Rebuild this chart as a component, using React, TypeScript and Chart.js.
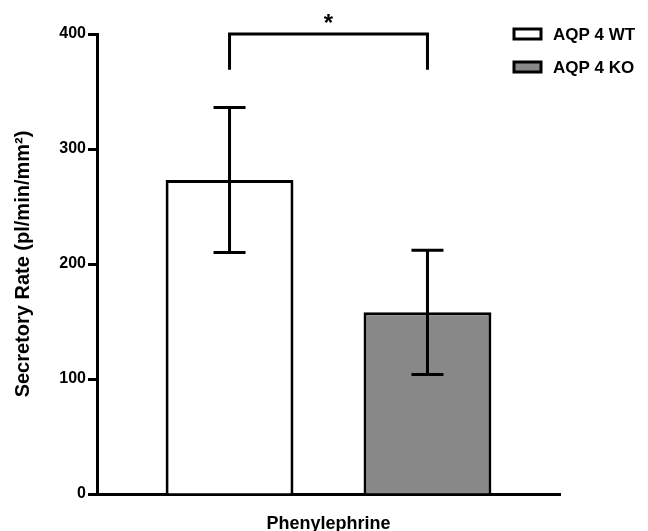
import React, { useEffect, useRef } from "react";
import { Chart, registerables } from "chart.js";

Chart.register(...registerables);

const categories = ["Phenylephrine"];
const seriesLabels = ["AQP 4 WT", "AQP 4 KO"];
const wtMean = [273];
const wtErr = [63];
const koMean = [158];
const koErr = [54];
const yTicks = [0, 100, 200, 300, 400];
const bracketTop = 400;
const bracketLeg = 369;
const significance = "*";

const FONT = "'Liberation Sans', Arial, sans-serif";

const errorPlugin = {
  id: "errorBarsAndExtras",
  afterDraw(chart: any) {
    const ctx = chart.ctx;
    const y = chart.scales.y;
    const errs = [wtErr, koErr];
    const centers: number[] = [];
    ctx.save();
    ctx.strokeStyle = "#000";
    ctx.lineWidth = 3;
    ctx.lineCap = "butt";
    chart.data.datasets.forEach((ds: any, i: number) => {
      const meta = chart.getDatasetMeta(i);
      meta.data.forEach((bar: any, j: number) => {
        const v = ds.data[j];
        const e = errs[i][j];
        const x = bar.x;
        centers.push(x);
        const yHi = y.getPixelForValue(v + e);
        const yLo = y.getPixelForValue(v - e);
        const cap = 16;
        ctx.beginPath();
        ctx.moveTo(x, yHi);
        ctx.lineTo(x, yLo);
        ctx.moveTo(x - cap, yHi);
        ctx.lineTo(x + cap, yHi);
        ctx.moveTo(x - cap, yLo);
        ctx.lineTo(x + cap, yLo);
        ctx.stroke();
      });
    });
    // significance bracket
    if (centers.length >= 2) {
      const x1 = centers[0];
      const x2 = centers[1];
      const yt = y.getPixelForValue(bracketTop);
      const yl = y.getPixelForValue(bracketLeg);
      ctx.beginPath();
      ctx.moveTo(x1, yl);
      ctx.lineTo(x1, yt);
      ctx.lineTo(x2, yt);
      ctx.lineTo(x2, yl);
      ctx.stroke();
      ctx.fillStyle = "#000";
      ctx.font = `bold 24px ${FONT}`;
      ctx.textAlign = "center";
      ctx.textBaseline = "middle";
      ctx.fillText(significance, (x1 + x2) / 2, yt - 10);
    }
    // legend
    const fills = chart.data.datasets.map((d: any) => d.backgroundColor);
    const legendX = 514;
    const legendY = [34, 67];
    seriesLabels.forEach((lab, i) => {
      ctx.fillStyle = fills[i];
      ctx.fillRect(legendX, legendY[i] - 5, 27, 10);
      ctx.strokeRect(legendX, legendY[i] - 5, 27, 10);
      ctx.fillStyle = "#000";
      ctx.font = `bold 17px ${FONT}`;
      ctx.textAlign = "left";
      ctx.textBaseline = "middle";
      ctx.fillText(lab, legendX + 39, legendY[i] + 1);
    });
    ctx.restore();
  },
};

export default function App() {
  const ref = useRef<HTMLCanvasElement>(null);
  useEffect(() => {
    if (!ref.current) return;
    const chart = new Chart(ref.current, {
      type: "bar",
      data: {
        labels: categories,
        datasets: [
          {
            label: seriesLabels[0],
            data: wtMean,
            backgroundColor: "#ffffff",
            borderColor: "#000000",
            borderWidth: 3,
            borderSkipped: "bottom",
          },
          {
            label: seriesLabels[1],
            data: koMean,
            backgroundColor: "#888888",
            borderColor: "#000000",
            borderWidth: 3,
            borderSkipped: "bottom",
          },
        ],
      },
      options: {
        animation: false,
        responsive: false,
        devicePixelRatio: 1,
        categoryPercentage: 0.855,
        barPercentage: 0.646,
        layout: { padding: { left: 8, top: 34, right: 88, bottom: 0 } },
        plugins: {
          legend: { display: false },
          tooltip: { enabled: false },
        },
        scales: {
          x: {
            grid: { display: false },
            border: { display: true, color: "#000", width: 3 },
            ticks: {
              color: "#000",
              font: { family: FONT, size: 18, weight: "bold" },
              padding: 11,
            },
            afterFit(scale: any) {
              scale.height = 37;
            },
          },
          y: {
            min: 0,
            max: 400,
            afterBuildTicks(scale: any) {
              scale.ticks = yTicks.map((v) => ({ value: v }));
            },
            grid: {
              display: true,
              drawOnChartArea: false,
              drawTicks: true,
              tickLength: 9,
              tickWidth: 3,
              tickColor: "#000",
            },
            border: { display: true, color: "#000", width: 3 },
            ticks: {
              color: "#000",
              font: { family: FONT, size: 16, weight: "bold" },
              padding: 2,
            },
            title: {
              display: true,
              text: "Secretory Rate (pl/min/mm²)",
              color: "#000",
              font: { family: FONT, size: 20, weight: "bold" },
              padding: { top: 3, bottom: 4 },
            },
            afterFit(scale: any) {
              scale.width = 89;
            },
          },
        },
      },
      plugins: [errorPlugin],
    });
    return () => chart.destroy();
  }, []);
  return (
    <div style={{ position: "absolute", left: 0, top: 0, width: 648, height: 531 }}>
      <canvas ref={ref} width={648} height={531} />
    </div>
  );
}
